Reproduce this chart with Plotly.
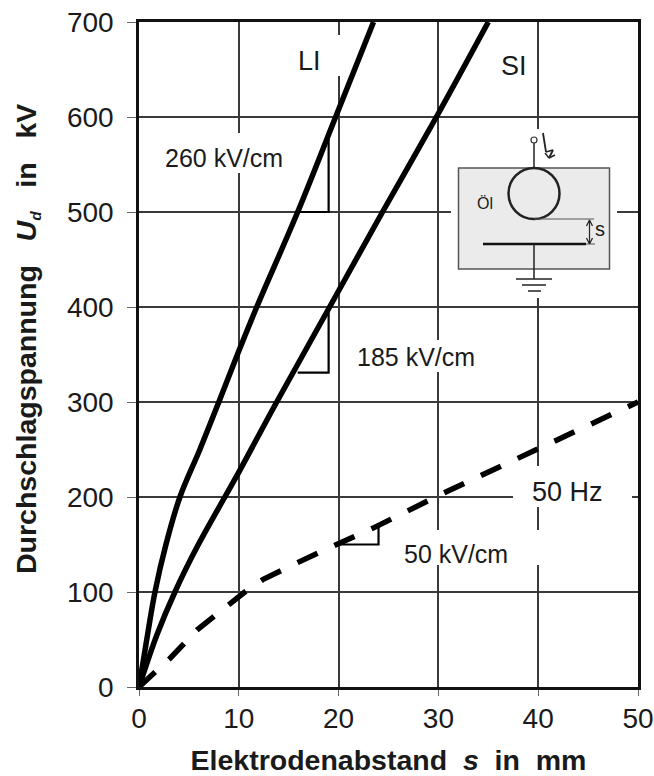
import plotly.graph_objects as go

# Curves: electrode gap s (mm) -> breakdown voltage Ud (kV)
li_s = [0, 0.7, 1.6, 2.7, 4.1, 6.1, 8.0, 9.9, 11.8, 15.9, 19.7, 23.5]
li_u = [0, 45, 100, 150, 200, 250, 300, 351, 400, 500, 600, 700]
si_s = [0, 1.8, 3.6, 5.8, 8.6, 10.1, 13.8, 19.1, 24.4, 29.8, 35.0]
si_u = [0, 55, 100, 147, 200, 228, 300, 400, 500, 600, 700]
hz_s = [0, 3.1, 5.8, 9.1, 10.6, 12.4, 14.1, 16.1, 19.8, 23.4, 30.5, 39.9, 50]
hz_u = [0, 30, 60, 88, 100, 113, 122, 132, 150, 167, 204, 251, 300]

# Slope triangles
tri_li_s = [16.0, 19.0, 19.0]
tri_li_u = [500, 500, 580]
tri_si_s = [15.9, 19.0, 19.0]
tri_si_u = [331, 331, 400]
tri_hz_s = [20.0, 24.0, 24.0]
tri_hz_u = [150, 150, 170]

x_ticks = [0, 10, 20, 30, 40, 50]
y_ticks = [0, 100, 200, 300, 400, 500, 600, 700]

FONT = "Liberation Sans"
INK = "#1a1a1a"
GRID = "#3a3a3a"

fig = go.Figure()
for xs, ys, dash, w, shape in [
    (li_s, li_u, "solid", 5.5, "spline"),
    (si_s, si_u, "solid", 5.5, "spline"),
    (hz_s, hz_u, "22px,18.6px", 5.5, "linear"),
    (tri_li_s, tri_li_u, "solid", 2.2, "linear"),
    (tri_si_s, tri_si_u, "solid", 2.2, "linear"),
    (tri_hz_s, tri_hz_u, "solid", 2.2, "linear"),
]:
    fig.add_trace(go.Scatter(x=xs, y=ys, mode="lines", showlegend=False, hoverinfo="skip",
                             line=dict(color="#000000", width=w, dash=dash, shape=shape)))


def px(v):
    return (v - 139) / 9.98


def py(v):
    return (687 - v) / 0.95


def rect(x0, y0, x1, y1, **kw):
    fig.add_shape(type="rect", x0=px(x0), x1=px(x1), y0=py(y0), y1=py(y1), xref="x", yref="y", **kw)


def seg(x0, y0, x1, y1, w=1.5, color="#222222"):
    fig.add_shape(type="line", x0=px(x0), x1=px(x1), y0=py(y0), y1=py(y1), xref="x", yref="y",
                  line=dict(color=color, width=w))


# White patches that interrupt the grid behind the labels
for box in [(296, 35, 345, 76), (160, 133, 290, 173), (350, 340, 480, 372),
            (513, 466, 632, 507), (400, 530, 541, 565), (451, 129, 617, 298)]:
    rect(*box, fillcolor="white", line=dict(width=0), layer="between")

# Inset: electrode arrangement
rect(458.5, 168, 609.5, 269, fillcolor="#ebebeb", line=dict(color="#555555", width=1.5))
fig.add_shape(type="circle", x0=px(508.5), x1=px(559.5), y0=py(168), y1=py(219), xref="x", yref="y",
              fillcolor="#ebebeb", line=dict(color="#222222", width=2.5))
seg(534, 143, 534, 168)
fig.add_shape(type="circle", x0=px(531), x1=px(537), y0=py(137), y1=py(143), xref="x", yref="y",
              fillcolor="white", line=dict(color="#333333", width=1.2))
seg(483, 244, 586, 244, 2.5, "#111111")
seg(534, 244, 534, 279)
seg(516, 279, 552, 279)
seg(522, 285, 546, 285)
seg(528, 291, 541, 291)
seg(534, 219, 594, 219, 1, "#555555")
seg(586, 244, 595, 244, 1, "#555555")
seg(589.5, 221, 589.5, 243, 1.2)
seg(586.5, 226, 589.5, 220, 1.2)
seg(592.5, 226, 589.5, 220, 1.2)
seg(586.5, 238, 589.5, 244, 1.2)
seg(592.5, 238, 589.5, 244, 1.2)
# lightning mark
seg(543, 133, 546, 152, 1.8)
seg(546, 152, 553, 150, 1.8)
seg(553, 150, 549, 158, 1.8)
seg(549, 158, 545, 153, 1.4)
seg(549, 158, 555, 155, 1.4)


def label(text, x, y, size=25):
    fig.add_annotation(text=text, x=px(x), y=py(y), xref="x", yref="y", showarrow=False,
                       font=dict(family=FONT, size=size, color=INK))


label("LI", 309, 61, size=27)
label("SI", 514, 66, size=27)
label("260 kV/cm", 224, 158)
label("185 kV/cm", 416, 357)
label("50 Hz", 567, 492, size=27)
label("50 kV/cm", 456, 554)
label("Öl", 485, 203, size=16)
label("s", 600, 229, size=20)

axis = dict(automargin=False, showgrid=True, gridcolor=GRID, gridwidth=1.5, zeroline=False, showline=True,
            linecolor="#111111", linewidth=2.5, mirror=True, ticks="outside",
            tickcolor="#666666", tickwidth=1, tickfont=dict(family=FONT, size=28, color=INK))

fig.update_xaxes(range=[0, 50], tickvals=x_ticks, ticklen=6, ticklabelstandoff=-1,
                 title=dict(text="Elektrodenabstand  <i>s</i>  in  mm", standoff=20,
                            font=dict(family=FONT, size=28.5, color=INK, weight="bold")), **axis)
fig.update_yaxes(range=[0, 700], tickvals=y_ticks, ticklen=9, ticklabelstandoff=8, **axis)

NB = "\u00a0\u00a0\u00a0"
fig.add_annotation(text=f"Durchschlagspannung{NB}<i>U<span style='font-size:22px'><sub>d</sub></span></i>{NB}in{NB}kV",
                   textangle=-90, xref="paper", yref="paper", x=-0.2255, y=0.5, yshift=16, xanchor="center",
                   yanchor="middle", showarrow=False,
                   font=dict(family=FONT, size=28.5, color=INK, weight="bold"))

fig.update_layout(width=654, height=776, autosize=False, paper_bgcolor="white", plot_bgcolor="white",
                  margin=dict(l=139, r=16, t=22, b=89), showlegend=False)

fig.write_html("out.html", config={"displayModeBar": False},
               post_script="document.body.style.margin='0';document.body.style.overflow='hidden';")
